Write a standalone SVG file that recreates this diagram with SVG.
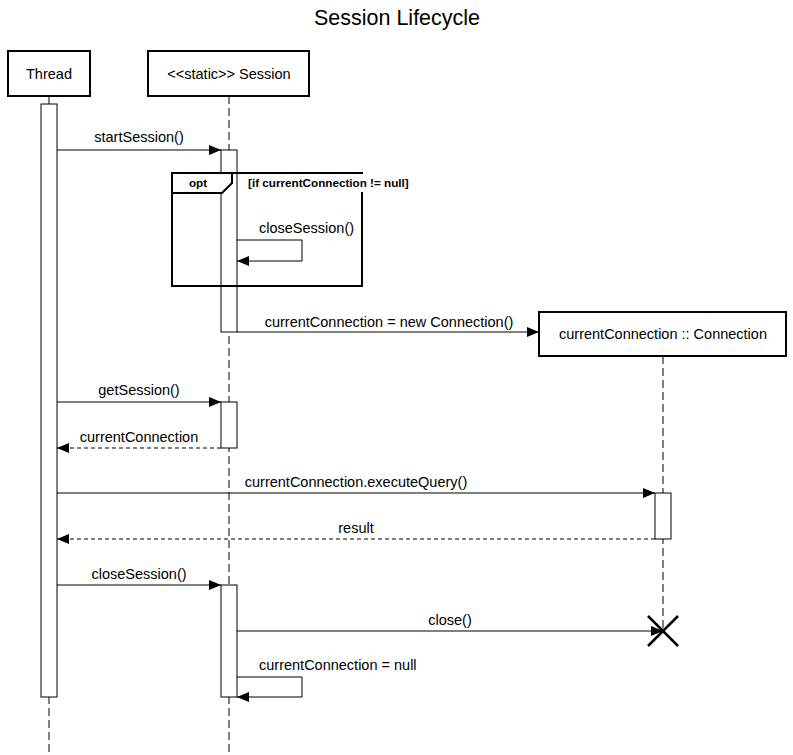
<svg xmlns="http://www.w3.org/2000/svg" width="793" height="755" viewBox="0 0 793 755">
<style>
text{font-family:"Liberation Sans",Arial,sans-serif;font-size:14.5px;fill:#000}
.box{fill:#fff;stroke:#000;stroke-width:2}
.act{fill:#fff;stroke:#000;stroke-width:1}
.life{fill:none;stroke:#000;stroke-width:1;stroke-dasharray:8 4}
.msg{fill:none;stroke:#000;stroke-width:1}
.ret{fill:none;stroke:#000;stroke-width:1;stroke-dasharray:4 3}
.cond{font-size:11.7px;font-weight:bold}
</style>
<defs>
<marker id="arr" markerWidth="12" markerHeight="10" refX="12" refY="5" orient="auto" markerUnits="userSpaceOnUse">
<path d="M0,0 L12,5 L0,10 Z" fill="#000"/>
</marker>
</defs>
<rect width="793" height="755" fill="#fff"/>
<text x="397" y="25" text-anchor="middle" style="font-size:21.5px">Session Lifecycle</text>

<g id="lifelines">
<line class="life" x1="49" y1="96" x2="49" y2="755"/>
<line class="life" x1="229" y1="96" x2="229" y2="755"/>
<line class="life" x1="663" y1="356" x2="663" y2="631"/>
</g>

<g id="thread">
<rect class="box" x="8" y="51" width="82" height="45"/>
<text x="49" y="79" text-anchor="middle">Thread</text>
<rect class="act" x="41" y="104" width="16" height="593"/>
</g>

<g id="session">
<rect class="box" x="148" y="51" width="161" height="45"/>
<text x="229" y="79" text-anchor="middle">&lt;&lt;static&gt;&gt; Session</text>
<rect class="act" x="221" y="150" width="16" height="182"/>
<rect class="act" x="221" y="402" width="16" height="46"/>
<rect class="act" x="221" y="585" width="16" height="112"/>
</g>

<g id="opt-frame">
<path d="M172,173 H362 V286 H172 Z" fill="none" stroke="#000" stroke-width="2"/>
<path d="M172,173 H232 V183 L222,193 H172 Z" fill="#fff" stroke="#000" stroke-width="2"/>
<text x="198" y="187" text-anchor="middle" class="cond">opt</text>
<rect x="246" y="174" width="166" height="18" fill="#fff"/>
<text x="248" y="187" class="cond">[if currentConnection != null]</text>
</g>

<g id="connection">
<rect class="box" x="539" y="312" width="247" height="44"/>
<text x="663" y="339" text-anchor="middle">currentConnection :: Connection</text>
<rect class="act" x="655" y="493" width="16" height="46"/>
<path d="M648,616 L678,646 M678,616 L648,646" stroke="#000" stroke-width="2.5" fill="none"/>
</g>

<g id="connectors">
<line class="msg" x1="57" y1="150" x2="221" y2="150" marker-end="url(#arr)"/>
<text x="139" y="142" text-anchor="middle">startSession()</text>

<path class="msg" d="M237,240 H302 V261 H237" marker-end="url(#arr)"/>
<text x="259" y="233">closeSession()</text>

<line class="msg" x1="237" y1="332" x2="539" y2="332" marker-end="url(#arr)"/>
<text x="389" y="327" text-anchor="middle">currentConnection = new Connection()</text>

<line class="msg" x1="57" y1="402" x2="221" y2="402" marker-end="url(#arr)"/>
<text x="139" y="395" text-anchor="middle">getSession()</text>

<line class="ret" x1="221" y1="448" x2="57" y2="448" marker-end="url(#arr)"/>
<text x="139" y="442" text-anchor="middle">currentConnection</text>

<line class="msg" x1="57" y1="493" x2="655" y2="493" marker-end="url(#arr)"/>
<text x="356" y="487" text-anchor="middle">currentConnection.executeQuery()</text>

<line class="ret" x1="655" y1="539" x2="57" y2="539" marker-end="url(#arr)"/>
<text x="356" y="533" text-anchor="middle">result</text>

<line class="msg" x1="57" y1="585" x2="221" y2="585" marker-end="url(#arr)"/>
<text x="139" y="579" text-anchor="middle">closeSession()</text>

<line class="msg" x1="237" y1="631" x2="663" y2="631" marker-end="url(#arr)"/>
<text x="450" y="625" text-anchor="middle">close()</text>

<path class="msg" d="M237,677 H302 V697 H237" marker-end="url(#arr)"/>
<text x="259" y="670">currentConnection = null</text>
</g>
</svg>
